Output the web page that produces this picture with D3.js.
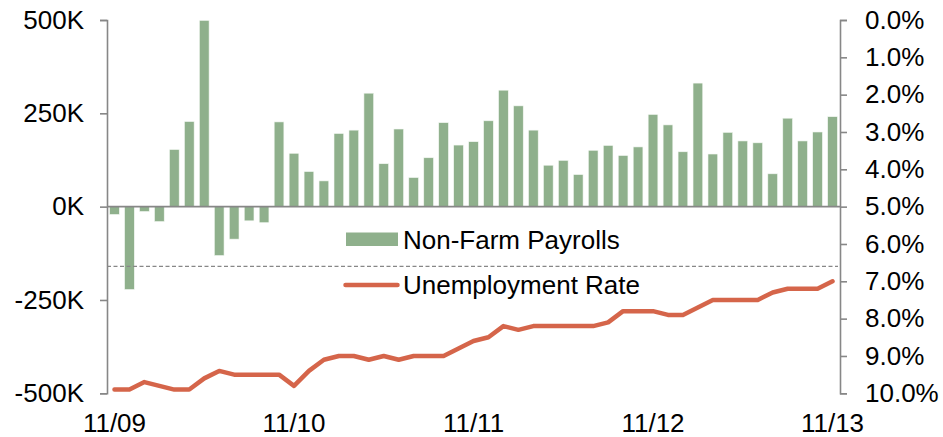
<!DOCTYPE html>
<meta charset="utf-8">
<script src="https://d3js.org/d3.v7.min.js"></script>
<style>
  body { margin: 0; background: #fff; }
  text { font-family: "Liberation Sans", Arial, sans-serif; }
</style>
<div id="my_dataviz"></div>
<script>
// months, 11/09 .. 11/13
var months = ["11/09","12/09","01/10","02/10","03/10","04/10","05/10","06/10","07/10","08/10","09/10","10/10",
              "11/10","12/10","01/11","02/11","03/11","04/11","05/11","06/11","07/11","08/11","09/11","10/11",
              "11/11","12/11","01/12","02/12","03/12","04/12","05/12","06/12","07/12","08/12","09/12","10/12",
              "11/12","12/12","01/13","02/13","03/13","04/13","05/13","06/13","07/13","08/13","09/13","10/13",
              "11/13"];

// non-farm payrolls, thousands
var payrolls = [-21,-222,-13,-40,153,228,499,-131,-87,-38,-43,227,
                143,94,69,196,205,304,115,208,78,131,225,165,
                174,230,312,270,205,111,124,86,151,164,137,160,
                247,219,147,331,141,199,176,171,88,237,176,200,
                241];

// unemployment rate, %
var unemployment = [9.9,9.9,9.7,9.8,9.9,9.9,9.6,9.4,9.5,9.5,9.5,9.5,
                    9.8,9.4,9.1,9.0,9.0,9.1,9.0,9.1,9.0,9.0,9.0,8.8,
                    8.6,8.5,8.2,8.3,8.2,8.2,8.2,8.2,8.2,8.1,7.8,7.8,
                    7.8,7.9,7.9,7.7,7.5,7.5,7.5,7.5,7.3,7.2,7.2,7.2,
                    7.0];

var xLabels = ["11/09","11/10","11/11","11/12","11/13"];
var leftTicks = [-500, -250, 0, 250, 500];
var rightTicks = [0,1,2,3,4,5,6,7,8,9,10];
var thresholdRate = 6.6;

var seriesNames = ["Non-Farm Payrolls", "Unemployment Rate"];

var width = 943, height = 437;
var green = "#8FB08C", orange = "#D5654A", gray = "#878787";

var svg = d3.select("#my_dataviz")
    .append("svg")
    .attr("width", width)
    .attr("height", height);

var x = d3.scaleBand()
    .domain(months)
    .range([107, 840])
    .paddingInner(0.35)
    .paddingOuter(0.175);

var y = d3.scaleLinear()
    .domain([-500, 500])
    .range([393.3, 20]);

var y2 = d3.scaleLinear()
    .domain([0, 10])
    .range([20, 393.3]);

var data = months.map(function (m, i) { return { m: m, p: payrolls[i], u: unemployment[i] }; });

// bars
svg.selectAll("rect.bar")
    .data(data)
    .enter()
    .append("rect")
    .attr("class", "bar")
    .attr("x", function (d) { return x(d.m); })
    .attr("y", function (d) { return y(Math.max(0, d.p)); })
    .attr("width", x.bandwidth())
    .attr("height", function (d) { return Math.abs(y(d.p) - y(0)); })
    .attr("fill", green)
    .attr("stroke", "#f4f8f3")
    .attr("stroke-width", 0.6);

// zero line
svg.append("line")
    .attr("x1", 107).attr("x2", 840)
    .attr("y1", y(0)).attr("y2", y(0))
    .attr("stroke", gray)
    .attr("stroke-width", 1.6);

// dashed threshold
svg.append("line")
    .attr("x1", 107).attr("x2", 838)
    .attr("y1", y2(thresholdRate)).attr("y2", y2(thresholdRate))
    .attr("stroke", gray)
    .attr("stroke-width", 1.3)
    .attr("stroke-dasharray", "4,2.5");

// unemployment line
var line = d3.line()
    .x(function (d) { return x(d.m) + x.bandwidth() / 2; })
    .y(function (d) { return y2(d.u); });

svg.append("path")
    .datum(data)
    .attr("d", line)
    .attr("fill", "none")
    .attr("stroke", orange)
    .attr("stroke-width", 4.5)
    .attr("stroke-linejoin", "round")
    .attr("stroke-linecap", "round");

// left axis
var yAxis = svg.append("g")
    .attr("transform", "translate(107,0)")
    .call(d3.axisLeft(y).tickValues(leftTicks).tickSize(7).tickPadding(16)
        .tickFormat(function (d) { return d + "K"; }));

// right axis
var y2Axis = svg.append("g")
    .attr("transform", "translate(840,0)")
    .call(d3.axisRight(y2).tickValues(rightTicks).tickSize(7).tickPadding(18)
        .tickFormat(function (d) { return d.toFixed(1) + "%"; }));

[yAxis, y2Axis].forEach(function (g) {
    g.select(".domain").attr("stroke", gray).attr("stroke-width", 1.6);
    g.selectAll(".tick line").attr("stroke", gray).attr("stroke-width", 1.6);
    g.selectAll("text")
        .attr("fill", "#000")
        .style("font-size", "26px")
        .style("font-family", "'Liberation Sans', Arial, sans-serif");
});

// x labels
svg.selectAll("text.xlab")
    .data(xLabels)
    .enter()
    .append("text")
    .attr("class", "xlab")
    .attr("x", function (d) { return x(d) + x.bandwidth() / 2; })
    .attr("y", 431.5)
    .attr("text-anchor", "middle")
    .style("font-size", "26px")
    .text(function (d) { return d; });

// legend
svg.append("rect")
    .attr("x", 346).attr("y", 232.5)
    .attr("width", 52).attr("height", 13.5)
    .attr("fill", green);

svg.append("line")
    .attr("x1", 345.5).attr("x2", 397.5)
    .attr("y1", 285).attr("y2", 285)
    .attr("stroke", orange)
    .attr("stroke-width", 4.5)
    .attr("stroke-linecap", "round");

svg.append("text")
    .attr("x", 403).attr("y", 248.5)
    .style("font-size", "26px")
    .text(seriesNames[0]);

svg.append("text")
    .attr("x", 403).attr("y", 293.5)
    .style("font-size", "26px")
    .text(seriesNames[1]);
</script>
